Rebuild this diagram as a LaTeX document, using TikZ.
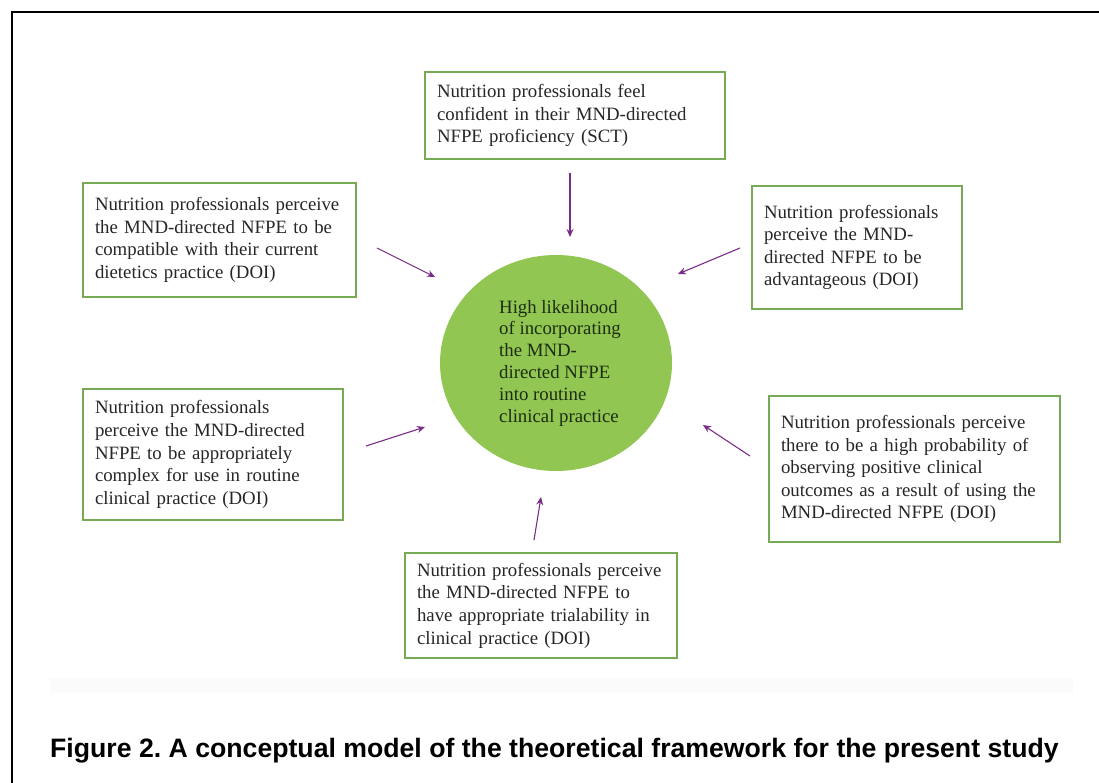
\documentclass[tikz,border=0pt]{standalone}
\usepackage{fontspec}
\setmainfont{Liberation Serif}
\newfontfamily\capfont{Liberation Sans}
\usetikzlibrary{shapes.geometric,arrows.meta}
\frenchspacing
\definecolor{boxgreen}{RGB}{120,170,85}
\definecolor{ellgreen}{RGB}{146,198,82}
\definecolor{arrowpurple}{RGB}{122,45,135}
\definecolor{elltext}{RGB}{28,45,18}
\definecolor{bandgray}{RGB}{251,251,251}
\tikzset{
  factorbox/.style={draw=boxgreen, line width=1.8pt, fill=white, rectangle,
    inner xsep=11pt, inner ysep=4pt, align=left,
    font=\fontsize{18.8}{22.6}\selectfont, text=black!85},
  outcome/.style={ellipse, fill=ellgreen, draw=none, inner sep=0pt,
    minimum width=232pt, minimum height=216pt, align=left,
    font=\fontsize{18.8}{21.8}\selectfont, text=elltext},
  influence/.style={draw=arrowpurple, line width=1.1pt,
    -{Stealth[length=8pt,width=7pt]}},
  framebar/.style={line width=2pt, draw=black}
}
\begin{document}
\begin{tikzpicture}[x=1pt,y=-1pt]
\useasboundingbox (0,0) rectangle (1099,783);
% outer frame (top and left edges)
\draw[framebar] (12,783) -- (12,12) -- (1099,12);
% faint band
\fill[bandgray] (50,678) rectangle (1073,693);

% central outcome
\node[outcome] (core) at (556,363) {\hspace*{8pt}High likelihood\\\hspace*{8pt}of incorporating\\\hspace*{8pt}the MND-\\\hspace*{8pt}directed NFPE\\\hspace*{8pt}into routine\\\hspace*{8pt}clinical practice};

% factor boxes
\node[factorbox, minimum width=300pt, minimum height=87pt, text width=276pt] (sct) at (575,115.5)
  {Nutrition professionals feel\\confident in their MND-directed\\NFPE proficiency (SCT)};
\node[factorbox, minimum width=273pt, minimum height=114pt, text width=249pt] (compat) at (219.5,240)
  {Nutrition professionals perceive\\the MND-directed NFPE to be\\compatible with their current\\dietetics practice (DOI)};
\node[factorbox, minimum width=210pt, minimum height=123pt, text width=186pt] (advant) at (857,247.5)
  {Nutrition professionals\\perceive the MND-\\directed NFPE to be\\advantageous (DOI)};
\node[factorbox, minimum width=260pt, minimum height=131pt, text width=236pt] (complex) at (213,454.5)
  {Nutrition professionals\\perceive the MND-directed\\NFPE to be appropriately\\complex for use in routine\\clinical practice (DOI)};
\node[factorbox, minimum width=291pt, minimum height=146pt, text width=267pt] (observ) at (914.5,469)
  {Nutrition professionals perceive\\there to be a high probability of\\observing positive clinical\\outcomes as a result of using the\\MND-directed NFPE (DOI)};
\node[factorbox, minimum width=272pt, minimum height=105pt, text width=248pt] (trial) at (541,605.5)
  {Nutrition professionals perceive\\the MND-directed NFPE to\\have appropriate trialability in\\clinical practice (DOI)};

% arrow end points
\coordinate (sct-out) at (570,173);   \coordinate (sct-in) at (570,237);
\coordinate (compat-out) at (377,248); \coordinate (compat-in) at (435,277);
\coordinate (advant-out) at (740,248); \coordinate (advant-in) at (678,274);
\coordinate (complex-out) at (366,446); \coordinate (complex-in) at (425,427);
\coordinate (observ-out) at (750,456); \coordinate (observ-in) at (703,425);
\coordinate (trial-out) at (534,540); \coordinate (trial-in) at (541,497);

\draw[influence] (sct-out) -- (sct-in);
\draw[influence] (compat-out) -- (compat-in);
\draw[influence] (advant-out) -- (advant-in);
\draw[influence] (complex-out) -- (complex-in);
\draw[influence] (observ-out) -- (observ-in);
\draw[influence] (trial-out) -- (trial-in);

% caption
\node[anchor=base west, inner sep=0pt, font=\capfont\bfseries\fontsize{26.65}{30}\selectfont] (caption) at (50,757)
  {Figure 2. A conceptual model of the theoretical framework for the present study};
\end{tikzpicture}
\end{document}
